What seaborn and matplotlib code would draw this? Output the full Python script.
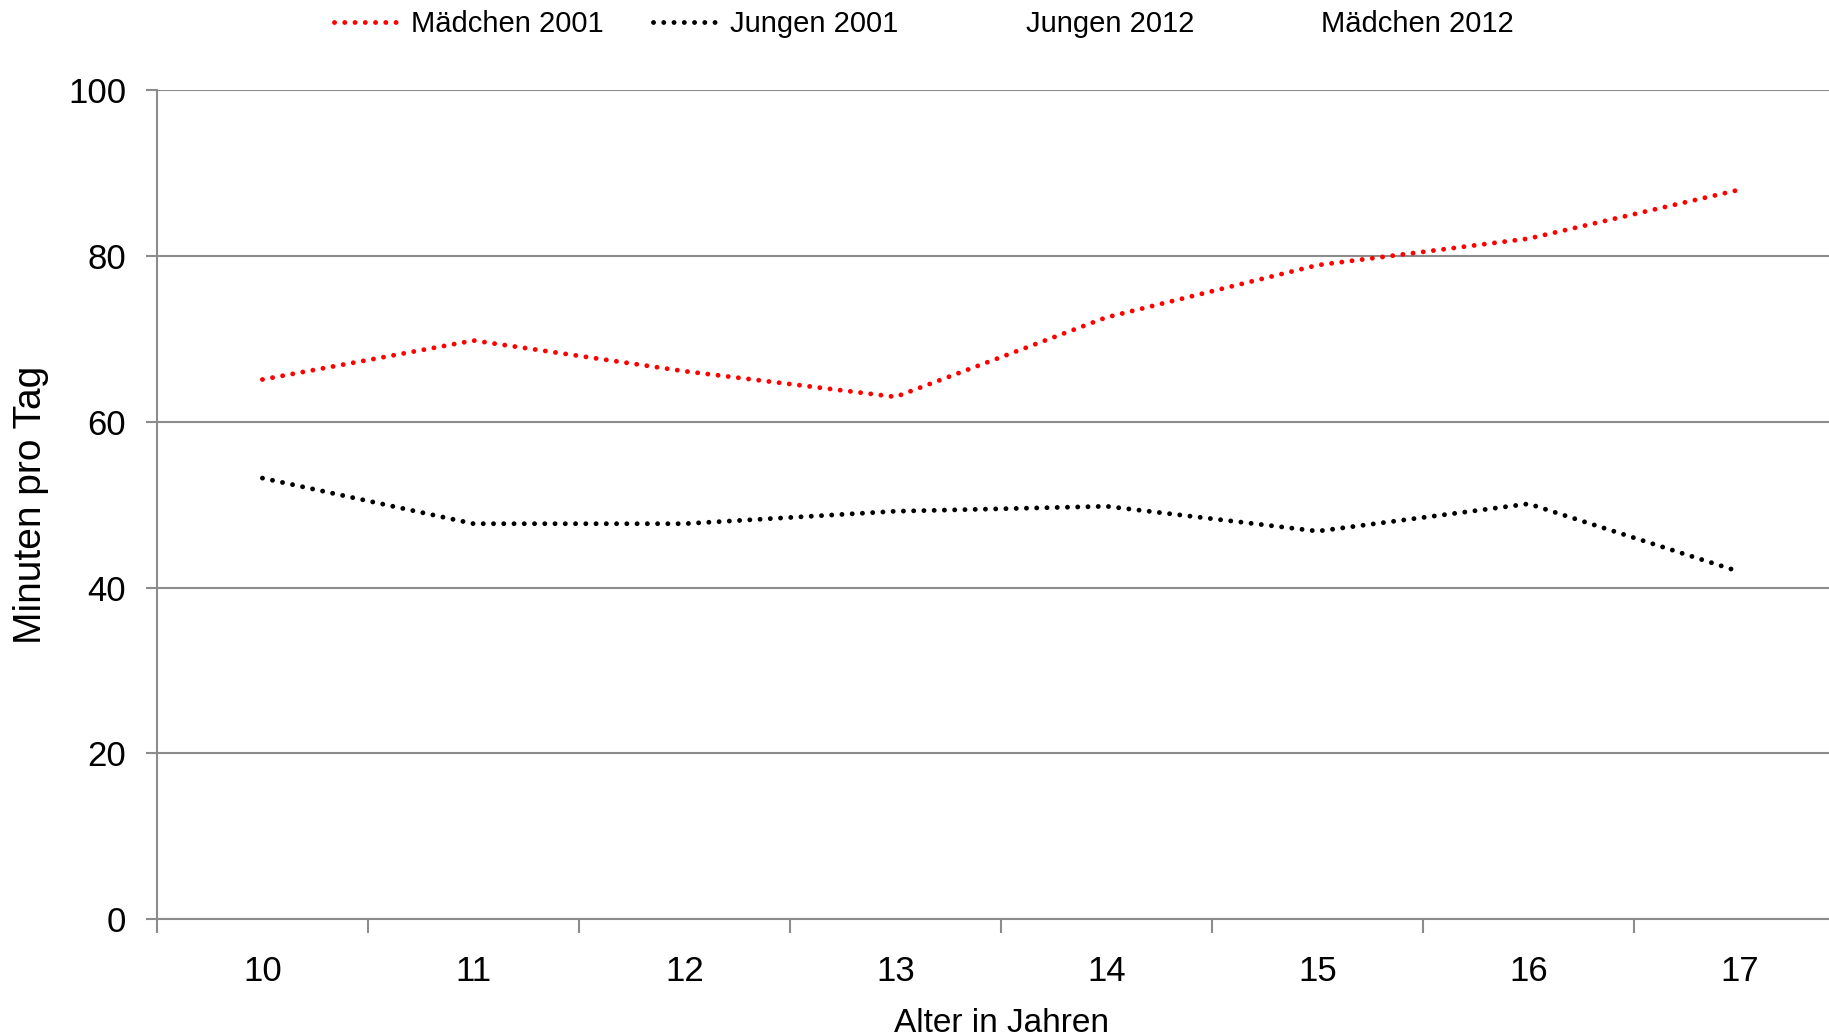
import pandas as pd
import matplotlib.pyplot as plt
import seaborn as sns
from matplotlib.lines import Line2D

sns.set_theme(style="white")
plt.rcParams['font.family'] = ['Liberation Sans', 'DejaVu Sans']
plt.rcParams['text.color'] = 'black'
plt.rcParams['axes.labelcolor'] = 'black'
plt.rcParams['xtick.color'] = 'black'
plt.rcParams['ytick.color'] = 'black'

# data
ages = ['10', '11', '12', '13', '14', '15', '16', '17']
maedchen_2001 = [65.1, 69.8, 66.1, 63.0, 72.6, 78.9, 82.1, 88.0]
jungen_2001 = [53.2, 47.7, 47.7, 49.2, 49.8, 46.8, 50.1, 41.9]
series_names = ['Mädchen 2001', 'Jungen 2001', 'Jungen 2012', 'Mädchen 2012']
series_colors = ['#ff0000', '#000000', '#ffffff', '#ffffff']
y_ticks = [0, 20, 40, 60, 80, 100]

df = pd.DataFrame({
    'Alter': ages * 2,
    'Minuten': maedchen_2001 + jungen_2001,
    'Gruppe': ['Mädchen 2001'] * len(ages) + ['Jungen 2001'] * len(ages),
})

fig = plt.figure(figsize=(18.29, 10.36), dpi=100)
ax = fig.add_axes([0.0858, 0.1129, 0.923, 0.80])

dot = (0, (0.01, 2.1))
sns.lineplot(data=df, x='Alter', y='Minuten', hue='Gruppe',
             palette={'Mädchen 2001': '#ff0000', 'Jungen 2001': '#000000'},
             linewidth=3.5, ax=ax, legend=False)
for line in ax.lines:
    line.set_linestyle(dot)
    line.set_dash_capstyle('round')

ax.set_xlim(-0.5, len(ages) - 0.5)
ax.set_ylim(0, 100)
ax.set_yticks(y_ticks)
ax.set_xticks(range(len(ages)))
ax.set_xticklabels(ages)
ax.set_xticks([i - 0.5 for i in range(len(ages) + 1)], minor=True)
ax.yaxis.grid(True, color='#8c8c8c', linewidth=1.5)
ax.xaxis.grid(False)
ax.set_axisbelow(True)

for s in ['top', 'right']:
    ax.spines[s].set_visible(False)
for s in ['left', 'bottom']:
    ax.spines[s].set_color('#8c8c8c')
    ax.spines[s].set_linewidth(1.5)

ax.tick_params(axis='y', which='major', left=True, length=8, width=1.5,
               color='#8c8c8c', labelsize=25, pad=14)
ax.tick_params(axis='x', which='major', bottom=False, labelsize=25, pad=20)
ax.tick_params(axis='x', which='minor', bottom=True, length=10, width=1.5,
               color='#8c8c8c')

ax.set_xlabel('Alter in Jahren', fontsize=24, labelpad=14)
ax.set_ylabel('Minuten pro Tag', fontsize=28, labelpad=14)

handles = [Line2D([], [], color=c, linewidth=3.5, linestyle=dot,
                  dash_capstyle='round') for c in series_colors]
fig.legend(handles, series_names, loc='center', bbox_to_anchor=(0.505, 0.977),
           ncol=4, frameon=False, fontsize=21, handlelength=2.15,
           columnspacing=1.7, handletextpad=0.5)

fig.savefig('out.png', dpi=100, facecolor='white')
plt.close()
